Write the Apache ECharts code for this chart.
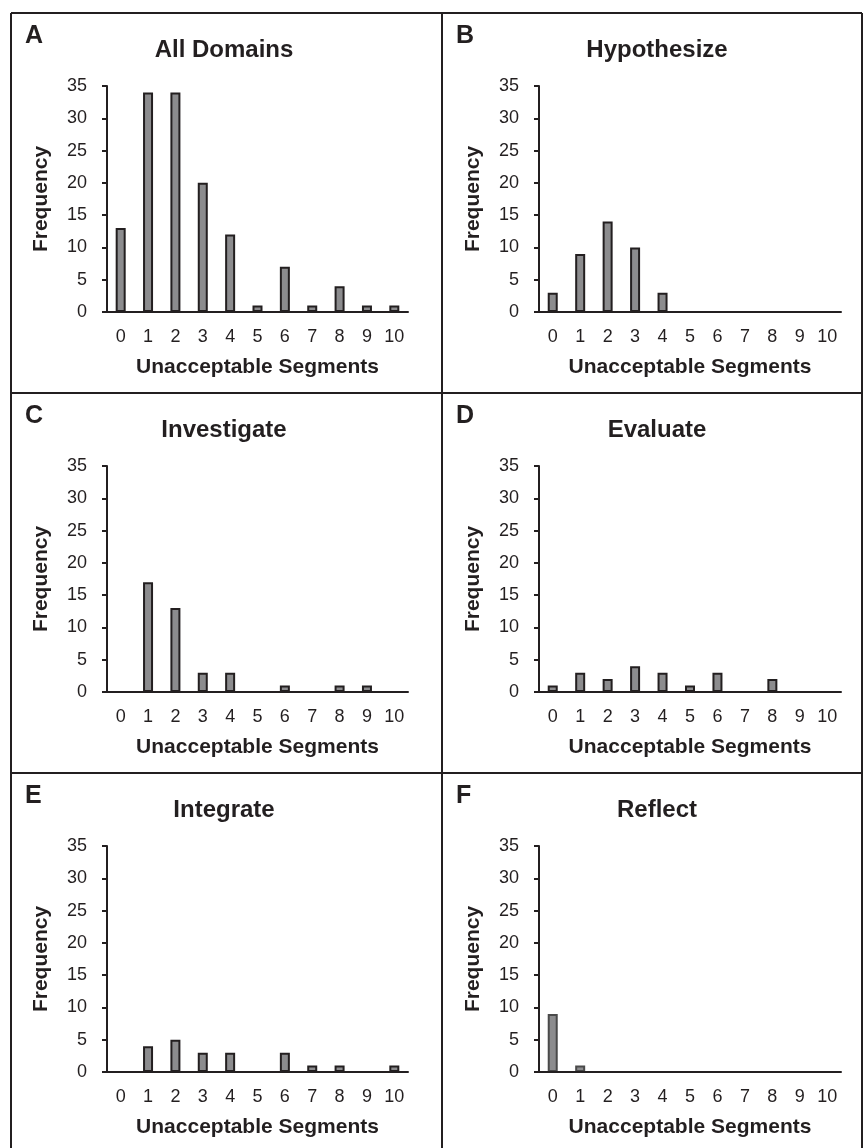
<!DOCTYPE html>
<html>
<head>
<meta charset="utf-8">
<title>Unacceptable Segments</title>
<script src="https://cdn.jsdelivr.net/npm/echarts@6/dist/echarts.min.js"></script>
<style>
  html, body { margin: 0; padding: 0; background: #fff; }
  #chart { width: 864px; height: 1148px; }
</style>
</head>
<body>
<div id="chart"></div>
<script>
// categories on the x axis
const segments = ["0", "1", "2", "3", "4", "5", "6", "7", "8", "9", "10"];
const yTicks = [0, 5, 10, 15, 20, 25, 30, 35];

const panelLetters = ["A", "B", "C", "D", "E", "F"];
const panelTitles = ["All Domains", "Hypothesize", "Investigate", "Evaluate", "Integrate", "Reflect"];

// frequencies
const allDomains = [13, 34, 34, 20, 12, 1, 7, 1, 4, 1, 1];
const hypothesize = [3, 9, 14, 10, 3, 0, 0, 0, 0, 0, 0];
const investigate = [0, 17, 13, 3, 3, 0, 1, 0, 1, 1, 0];
const evaluate = [1, 3, 2, 4, 3, 1, 3, 0, 2, 0, 0];
const integrate = [0, 4, 5, 3, 3, 0, 3, 1, 1, 0, 1];
const reflect = [9, 1, 0, 0, 0, 0, 0, 0, 0, 0, 0];

const panelData = [allDomains, hypothesize, investigate, evaluate, integrate, reflect];

const ink = "#231f20";
const font = "'Liberation Sans', Arial, sans-serif";

// panel frame positions
const colLeft = [11, 442];
const rowTop = [13, 393, 773];
const gridLeft = [107, 539];
const gridWidth = [301, 302];
const titleX = [224, 657];

const chart = echarts.init(document.getElementById("chart"), null, {renderer: "canvas"});

const grids = [], xAxes = [], yAxes = [], series = [], titles = [], graphics = [];

panelData.forEach((values, i) => {
	const col = i % 2;
	const row = Math.floor(i / 2);
	const top = rowTop[row];

	grids.push({left: gridLeft[col], top: top + 73, width: gridWidth[col], height: 226});

	xAxes.push({
		type: "category",
		gridIndex: i,
		data: segments,
		z: 5, // keep the baseline above the bar bottoms
		name: "Unacceptable Segments",
		nameLocation: "middle",
		nameGap: 45,
		nameTextStyle: {fontFamily: font, fontWeight: "bold", fontSize: 21, color: ink},
		axisLine: {lineStyle: {color: ink, width: 2}},
		axisTick: {show: false},
		axisLabel: {fontFamily: font, fontSize: 18, color: ink, margin: 16, interval: 0},
	});

	yAxes.push({
		type: "value",
		gridIndex: i,
		min: yTicks[0],
		max: yTicks[yTicks.length - 1],
		interval: 5,
		z: 5,
		name: "Frequency",
		nameLocation: "middle",
		nameGap: 55,
		nameTextStyle: {fontFamily: font, fontWeight: "bold", fontSize: 21, color: ink},
		axisLine: {show: true, lineStyle: {color: ink, width: 2}},
		axisTick: {show: true, length: 5, lineStyle: {color: ink, width: 2}},
		axisLabel: {fontFamily: font, fontSize: 18, color: ink, margin: 20},
		splitLine: {show: false},
	});

	series.push({
		type: "bar",
		xAxisIndex: i,
		yAxisIndex: i,
		data: values,
		barWidth: 10,
		z: 2,
		itemStyle: {
			color: "#8c8c8e",
			borderColor: i === 5 ? "#4a4a4a" : ink,
			borderWidth: 2,
		},
		animation: false,
	});

	titles.push({
		text: panelTitles[i],
		left: titleX[col],
		top: top + 37,
		textAlign: "center",
		textVerticalAlign: "middle",
		padding: 0,
		textStyle: {fontFamily: font, fontWeight: "bold", fontSize: 24, color: ink},
	});

	graphics.push({
		type: "text",
		left: colLeft[col] + 14,
		top: top + 11,
		style: {text: panelLetters[i], font: "bold 25px " + font, fill: ink},
	});
});

// frame and dividers
const frame = {stroke: ink, lineWidth: 2};
graphics.push(
	{type: "line", shape: {x1: 11, y1: 13, x2: 862, y2: 13}, style: frame},
	{type: "line", shape: {x1: 11, y1: 13, x2: 11, y2: 1148}, style: frame},
	{type: "line", shape: {x1: 862, y1: 13, x2: 862, y2: 1148}, style: frame},
	{type: "line", shape: {x1: 442, y1: 13, x2: 442, y2: 1148}, style: frame},
	{type: "line", shape: {x1: 11, y1: 393, x2: 862, y2: 393}, style: frame},
	{type: "line", shape: {x1: 11, y1: 773, x2: 862, y2: 773}, style: frame}
);

chart.setOption({
	backgroundColor: "#fff",
	animation: false,
	title: titles,
	grid: grids,
	xAxis: xAxes,
	yAxis: yAxes,
	series: series,
	graphic: graphics,
});
</script>
</body>
</html>
